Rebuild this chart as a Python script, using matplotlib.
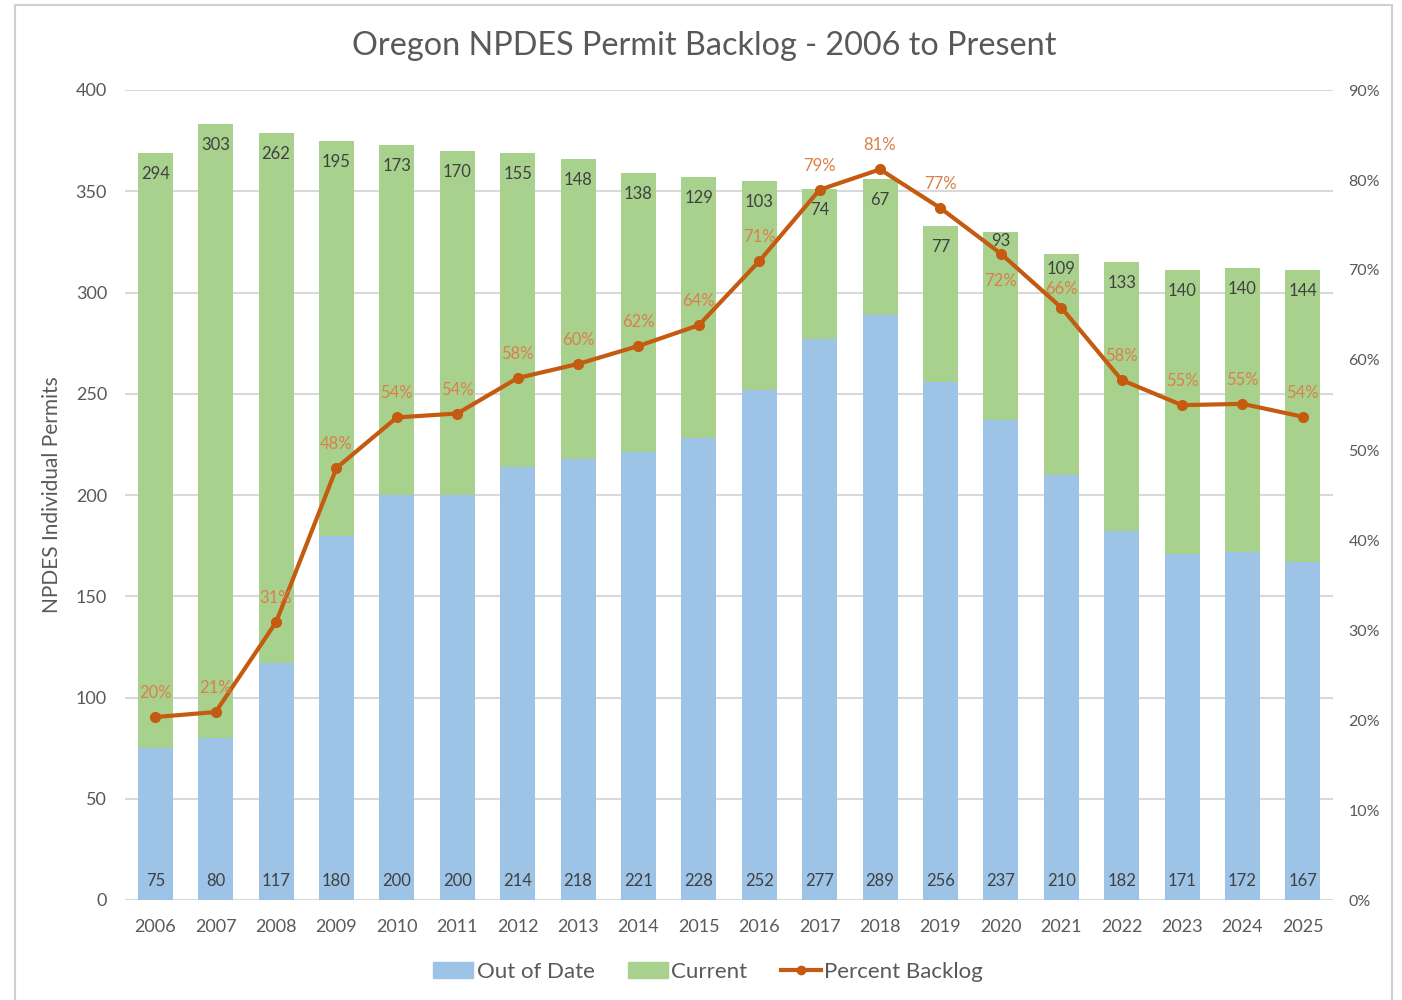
import matplotlib.pyplot as plt
import numpy as np
from matplotlib.ticker import FuncFormatter
from matplotlib.lines import Line2D
from matplotlib.patches import Patch, Rectangle

plt.rcParams['font.family'] = ['Lato', 'DejaVu Sans']

# permit counts per year
years = [str(y) for y in range(2006, 2026)]
out_of_date = [75, 80, 117, 180, 200, 200, 214, 218, 221, 228,
               252, 277, 289, 256, 237, 210, 182, 171, 172, 167]
current = [294, 303, 262, 195, 173, 170, 155, 148, 138, 129,
           103, 74, 67, 77, 93, 109, 133, 140, 140, 144]

out_arr = np.array(out_of_date)
cur_arr = np.array(current)
pct_backlog = out_arr / (out_arr + cur_arr)

BLUE = '#9DC3E6'
GREEN = '#A9D18E'
ORANGE = '#C55A11'
LABEL_ORANGE = '#D9804A'
GRAY = '#595959'
GRID = '#D9D9D9'

fig = plt.figure(figsize=(14.02, 10), dpi=100)
fig.patches.append(Rectangle((0.011, -0.01), 0.982, 1.005, transform=fig.transFigure,
                             fill=False, edgecolor='#D0D0D0', linewidth=1.5))
ax = fig.add_axes([0.0892, 0.10, 0.8616, 0.81])

x = np.arange(len(years))
w = 0.58
ax.bar(x, out_arr, width=w, color=BLUE, zorder=2)
ax.bar(x, cur_arr, width=w, bottom=out_arr, color=GREEN, zorder=2)

ax.set_xlim(-0.5, len(years) - 0.5)
ax.set_ylim(0, 400)
ax.set_yticks(range(0, 401, 50))
ax.yaxis.grid(True, color=GRID, linewidth=1.5, zorder=0)
ax.set_axisbelow(True)
for s in ax.spines.values():
    s.set_visible(False)
ax.tick_params(length=0, labelsize=13, labelcolor=GRAY, pad=13)
ax.tick_params(axis='x', pad=14)
ax.set_xticks(x)
ax.set_xticklabels(years)
ax.set_ylabel('NPDES Individual Permits', fontsize=15, color=GRAY, labelpad=10)

# bar value labels; a few top labels nudged up to clear the line
top_offsets = {14: -9, 15: -15}
for i in range(len(years)):
    ax.annotate(str(out_of_date[i]), (x[i], 0), xytext=(0, 19), textcoords='offset pixels',
                ha='center', va='center', fontsize=12, color='#404040', zorder=3)
    top = out_of_date[i] + current[i]
    ax.annotate(str(current[i]), (x[i], top), xytext=(0, top_offsets.get(i, -21)),
                textcoords='offset pixels',
                ha='center', va='center', fontsize=12, color='#404040', zorder=3)

ax2 = ax.twinx()
ax2.set_ylim(0, 0.9)
ax2.set_yticks(np.arange(0, 0.91, 0.1))
ax2.yaxis.set_major_formatter(FuncFormatter(lambda v, p: f'{v * 100:.0f}%'))
for s in ax2.spines.values():
    s.set_visible(False)
ax2.tick_params(length=0, labelsize=11.5, labelcolor=GRAY, pad=11)
ax2.plot(x, pct_backlog, color=ORANGE, linewidth=3, marker='o', markersize=7, zorder=4)

pct_offsets = {14: -27, 15: 19}
for i, p in enumerate(pct_backlog):
    ax2.annotate(f'{p * 100:.0f}%', (x[i], p), xytext=(0, pct_offsets.get(i, 24)),
                 textcoords='offset pixels',
                 ha='center', va='center', fontsize=12, color=LABEL_ORANGE, zorder=5)

fig.text(0.502, 0.954, 'Oregon NPDES Permit Backlog - 2006 to Present',
         ha='center', va='center', fontsize=23.3, color=GRAY)

handles = [Patch(color=BLUE), Patch(color=GREEN),
           Line2D([0], [0], color=ORANGE, linewidth=3, marker='o', markersize=6)]
fig.legend(handles, ['Out of Date', 'Current', 'Percent Backlog'], loc='center',
           bbox_to_anchor=(0.505, 0.028), ncol=3, frameon=False, fontsize=16,
           labelcolor=GRAY, handlelength=1.8, handleheight=0.7, handletextpad=0.15,
           columnspacing=1.5)

fig.savefig('out.png', dpi=100)
